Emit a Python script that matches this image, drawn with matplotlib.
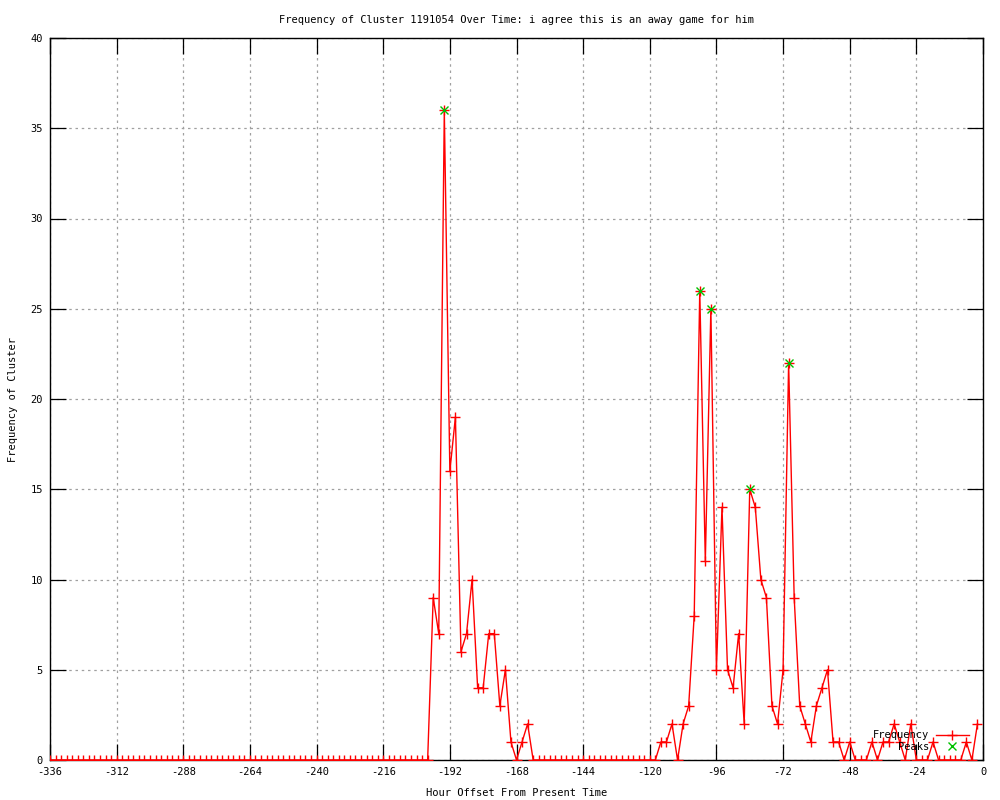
import numpy as np
import matplotlib
matplotlib.use("Agg")
import matplotlib.pyplot as plt

plt.rcParams['font.family'] = ['DejaVu Sans Mono']
plt.rcParams['axes.unicode_minus'] = False

hours = np.arange(-336, 0, 2)
frequency = [
    # -336 .. -200
    0, 0, 0, 0, 0, 0, 0, 0, 0, 0, 0, 0, 0, 0, 0, 0, 0, 0, 0, 0,
    0, 0, 0, 0, 0, 0, 0, 0, 0, 0, 0, 0, 0, 0, 0, 0, 0, 0, 0, 0,
    0, 0, 0, 0, 0, 0, 0, 0, 0, 0, 0, 0, 0, 0, 0, 0, 0, 0, 0, 0,
    0, 0, 0, 0, 0, 0, 0, 0, 0,
    # -198 .. -164
    9, 7, 36, 16, 19, 6, 7, 10, 4, 4, 7, 7, 3, 5, 1, 0, 1, 2,
    # -162 .. -118
    0, 0, 0, 0, 0, 0, 0, 0, 0, 0, 0, 0, 0, 0, 0, 0, 0, 0, 0, 0,
    0, 0, 0,
    # -116 .. -2
    1, 1, 2, 0, 2, 3, 8, 26, 11, 25, 5, 14, 5, 4, 7, 2, 15, 14, 10, 9,
    3, 2, 5, 22, 9, 3, 2, 1, 3, 4, 5, 1, 1, 0, 1, 0, 0, 0, 1, 0,
    1, 1, 2, 1, 0, 2, 0, 0, 0, 1, 0, 0, 0, 0, 0, 1, 0, 2,
]
peak_hours = [-194, -102, -98, -84, -70]
peak_values = [36, 26, 25, 15, 22]

x_ticks = [-336, -312, -288, -264, -240, -216, -192, -168, -144, -120, -96, -72, -48, -24, 0]
y_ticks = [0, 5, 10, 15, 20, 25, 30, 35, 40]

fig = plt.figure(figsize=(10, 8), dpi=100)
ax = fig.add_axes([0.05, 0.05, 0.933, 0.9025])

ax.plot(hours, frequency, color='#ff0000', lw=1.0, marker='+', markersize=7,
        markeredgewidth=1.0, label='Frequency', zorder=3)
ax.plot(peak_hours, peak_values, linestyle='none', color='#00c000', marker='x',
        markersize=6, markeredgewidth=1.0, label='Peaks', zorder=4)

ax.set_xlim(-336, 0)
ax.set_ylim(0, 40)
ax.set_xticks(x_ticks)
ax.set_yticks(y_ticks)
ax.tick_params(direction='in', length=11.5, width=0.9, top=True, right=True,
               labelsize=7.5, pad=5, color='black')
ax.grid(True, color='#a0a0a0', linestyle=(0, (2, 3)), linewidth=0.9)
for s in ax.spines.values():
    s.set_linewidth(1.0)
    s.set_color('black')

ax.set_title('Frequency of Cluster 1191054 Over Time: i agree this is an away game for him',
             fontsize=7.5, pad=11)
ax.set_xlabel('Hour Offset From Present Time', fontsize=7.5, labelpad=8)
ax.set_ylabel('Frequency of Cluster', fontsize=7.5, labelpad=9)

leg = ax.legend(loc='lower right', bbox_to_anchor=(0.985, 0.011), frameon=False,
                markerfirst=False, fontsize=7.5, handlelength=3.2,
                borderaxespad=0.0, borderpad=0.0, labelspacing=0.15,
                handletextpad=0.6)
for t in leg.get_texts():
    t.set_ha('right')

fig.savefig('out.png', dpi=100)
